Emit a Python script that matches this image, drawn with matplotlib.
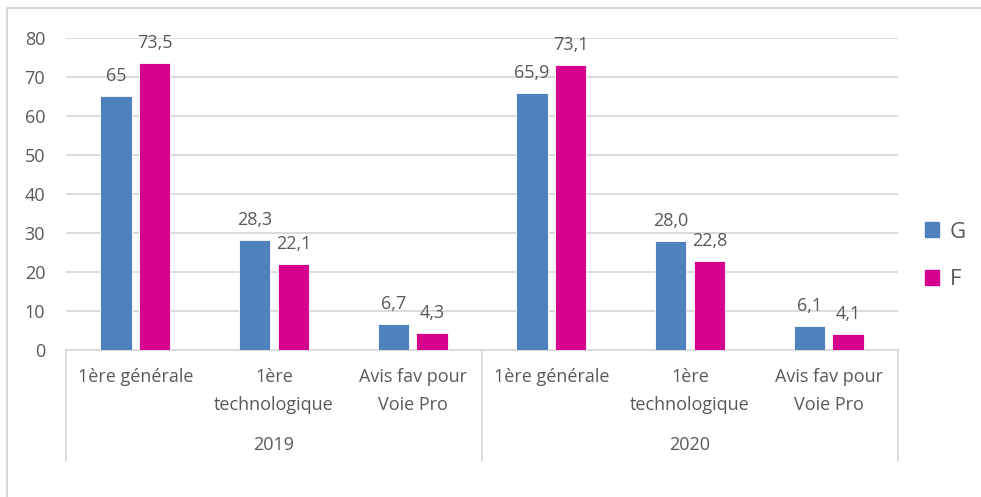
import matplotlib
matplotlib.use("Agg")
import matplotlib.pyplot as plt
import matplotlib.transforms as mtransforms
from matplotlib.patches import Rectangle, Patch

plt.rcParams['font.family'] = ['Open Sans', 'DejaVu Sans']

# data
years = ['2019', '2020']
categories = ['1ère générale', '1ère\ntechnologique', 'Avis fav pour\nVoie Pro']
g_values = [65, 28.3, 6.7, 65.9, 28.0, 6.1]
f_values = [73.5, 22.1, 4.3, 73.1, 22.8, 4.1]
g_labels = ['65', '28,3', '6,7', '65,9', '28,0', '6,1']
f_labels = ['73,5', '22,1', '4,3', '73,1', '22,8', '4,1']
series_names = ['G', 'F']
yticks = [0, 10, 20, 30, 40, 50, 60, 70, 80]

blue = '#4f81bd'
pink = '#d6008f'
txt = '#595959'
grid = '#d9d9d9'
fs = 13

W, H = 981, 497
fig = plt.figure(figsize=(W / 100, H / 100), dpi=100)
ax = fig.add_axes([66 / W, (H - 350) / H, (898 - 66) / W, (350 - 38) / H])

x = list(range(len(g_values)))
bw = 0.225
off = 0.14
ax.bar([i - off for i in x], g_values, bw, color=blue, edgecolor='white', linewidth=0.6, zorder=3)
ax.bar([i + off for i in x], f_values, bw, color=pink, edgecolor='white', linewidth=0.6, zorder=3)

for i in x:
    ax.annotate(g_labels[i], (i - off, g_values[i]), xytext=(0, 8), textcoords='offset points',
                ha='center', va='bottom', fontsize=fs, color=txt)
    ax.annotate(f_labels[i], (i + off, f_values[i]), xytext=(0, 8), textcoords='offset points',
                ha='center', va='bottom', fontsize=fs, color=txt)

ax.set_xlim(-0.5, len(x) - 0.5)
ax.set_ylim(0, 80)
ax.set_yticks(yticks)
ax.set_yticklabels([str(t) for t in yticks], fontsize=fs, color=txt)
ax.tick_params(axis='y', length=0, pad=15)
ax.set_xticks([])
ax.grid(axis='y', color=grid, linewidth=1.3, zorder=0)
for s in ['top', 'right', 'left']:
    ax.spines[s].set_visible(False)
ax.spines['bottom'].set_color(grid)
ax.spines['bottom'].set_linewidth(1.3)

# multi-level category axis
trans = mtransforms.blended_transform_factory(ax.transData, fig.transFigure)
for i in x:
    ax.text(i, 1 - 368 / H, categories[i % 3], transform=trans, ha='center', va='top',
            fontsize=fs, color=txt, linespacing=1.75)
for k, yr in enumerate(years):
    ax.text(3 * k + 1, 1 - 445 / H, yr, transform=trans, ha='center', va='center',
            fontsize=fs, color=txt)
for xb in [-0.5, 2.5, 5.5]:
    ax.plot([xb, xb], [1 - 350 / H, 1 - 461 / H], transform=trans, color=grid,
            linewidth=1.3, clip_on=False)

# legend
handles = [Patch(color=blue), Patch(color=pink)]
fig.legend(handles, series_names, loc='center left', bbox_to_anchor=(905 / W, 1 - 256 / H),
           frameon=False, fontsize=16, labelcolor=txt, handlelength=0.65, handleheight=0.65,
           handletextpad=0.45, labelspacing=1.2)

# outer frame
fig.patches.append(Rectangle((7 / W, -0.05), 1.0, 1.05 - 8 / H, transform=fig.transFigure,
                             fill=False, edgecolor=grid, linewidth=1.5))

fig.savefig('out.png', dpi=100, facecolor='white')
